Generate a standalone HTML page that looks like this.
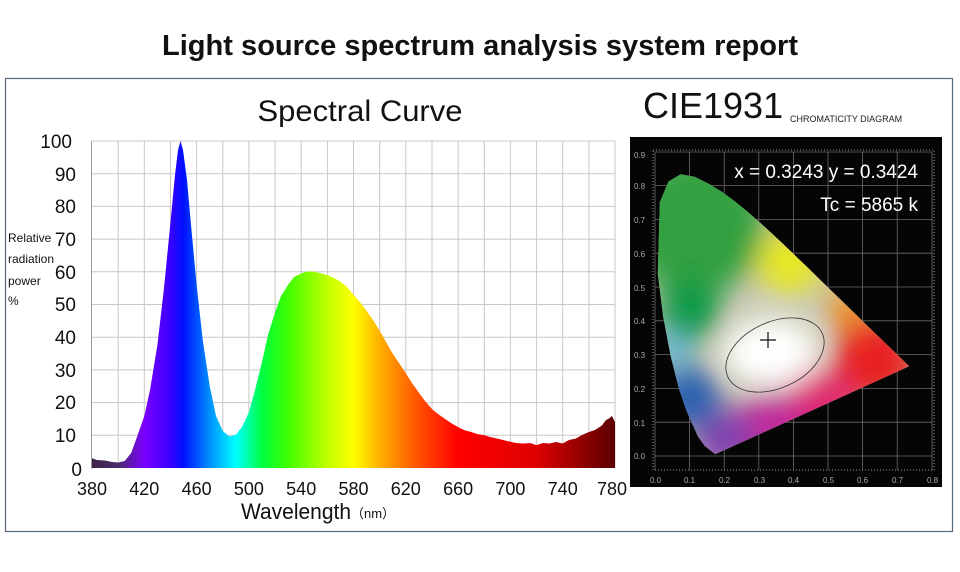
<!DOCTYPE html>
<html><head><meta charset="utf-8"><style>
html,body{margin:0;padding:0;background:#fff;width:960px;height:572px;overflow:hidden}
svg{display:block;font-family:"Liberation Sans",sans-serif}
</style></head><body>
<svg width="960" height="572" viewBox="0 0 960 572">
<defs>
<linearGradient id="spec" gradientUnits="userSpaceOnUse" x1="92" y1="0" x2="615" y2="0">
<stop offset="0" stop-color="#3a2448"/>
<stop offset="0.05" stop-color="#4a2a6a"/>
<stop offset="0.1" stop-color="#7a00ff"/>
<stop offset="0.15" stop-color="#3a00ff"/>
<stop offset="0.175" stop-color="#0010ff"/>
<stop offset="0.225" stop-color="#0090ff"/>
<stop offset="0.275" stop-color="#00ffff"/>
<stop offset="0.325" stop-color="#00ff40"/>
<stop offset="0.375" stop-color="#40ff00"/>
<stop offset="0.45" stop-color="#c0ff00"/>
<stop offset="0.5" stop-color="#ffff00"/>
<stop offset="0.55" stop-color="#ffb000"/>
<stop offset="0.625" stop-color="#ff5000"/>
<stop offset="0.7" stop-color="#ff0000"/>
<stop offset="0.85" stop-color="#dd0000"/>
<stop offset="1" stop-color="#5a0000"/>
</linearGradient>
<clipPath id="loc"><polygon points="715.2,454.3 704.8,446 697.9,436.5 686.6,411.1 678.8,388.2 670.7,356.3 663.1,316.5 657.8,274 659.8,202.4 668.5,181.5 680.7,174.2 694.5,176.7 708.5,183.6 721.7,191.8 734.4,201 747,211.2 759.4,222 771.7,233.3 784.1,244.9 796.4,256.7 808.7,268.5 820.7,280.2 832.3,291.5 843.5,302.4 854,312.6 863.6,322 871.9,330.1 879.3,337.2 885.4,343.1 894.3,351.8 909.2,366.3"/></clipPath>
<filter id="bl" x="-50%" y="-50%" width="200%" height="200%"><feGaussianBlur stdDeviation="14"/></filter>
</defs>

<text x="480" y="55" text-anchor="middle" font-size="29" font-weight="bold" fill="#111" textLength="636" lengthAdjust="spacingAndGlyphs">Light source spectrum analysis system report</text>
<rect x="5.5" y="78.5" width="947" height="453" fill="none" stroke="#5a6a85" stroke-width="1.2"/>

<text x="360" y="121" text-anchor="middle" font-size="30" fill="#111" textLength="205" lengthAdjust="spacingAndGlyphs">Spectral Curve</text>

<g stroke="#c8c8c8" stroke-width="1">
<line x1="92" y1="141" x2="615" y2="141"/><line x1="92" y1="173.7" x2="615" y2="173.7"/><line x1="92" y1="206.4" x2="615" y2="206.4"/><line x1="92" y1="239.1" x2="615" y2="239.1"/><line x1="92" y1="271.8" x2="615" y2="271.8"/><line x1="92" y1="304.5" x2="615" y2="304.5"/><line x1="92" y1="337.2" x2="615" y2="337.2"/><line x1="92" y1="369.9" x2="615" y2="369.9"/><line x1="92" y1="402.6" x2="615" y2="402.6"/><line x1="92" y1="435.3" x2="615" y2="435.3"/>
<line x1="118.2" y1="141" x2="118.2" y2="468"/><line x1="144.3" y1="141" x2="144.3" y2="468"/><line x1="170.5" y1="141" x2="170.5" y2="468"/><line x1="196.6" y1="141" x2="196.6" y2="468"/><line x1="222.8" y1="141" x2="222.8" y2="468"/><line x1="248.9" y1="141" x2="248.9" y2="468"/><line x1="275.1" y1="141" x2="275.1" y2="468"/><line x1="301.2" y1="141" x2="301.2" y2="468"/><line x1="327.4" y1="141" x2="327.4" y2="468"/><line x1="353.5" y1="141" x2="353.5" y2="468"/><line x1="379.7" y1="141" x2="379.7" y2="468"/><line x1="405.8" y1="141" x2="405.8" y2="468"/><line x1="432" y1="141" x2="432" y2="468"/><line x1="458.1" y1="141" x2="458.1" y2="468"/><line x1="484.3" y1="141" x2="484.3" y2="468"/><line x1="510.4" y1="141" x2="510.4" y2="468"/><line x1="536.6" y1="141" x2="536.6" y2="468"/><line x1="562.7" y1="141" x2="562.7" y2="468"/><line x1="588.9" y1="141" x2="588.9" y2="468"/><line x1="615" y1="141" x2="615" y2="468"/>
</g>
<line x1="91.5" y1="141" x2="91.5" y2="469" stroke="#999"/>
<polygon fill="url(#spec)" points="92,468 92,458.2 97,460 105.1,460.5 112,462 118.2,462.5 124.7,461 131.2,453 137,437 144.3,416 150,390 157.4,345 164,288 170.5,222 175,175 178,150 180.5,141 183,150 187,180 190.1,215 196.6,285 203,342 209.7,386 216,416 222.8,431 229.3,436.5 235.8,434.8 242,427 248.9,412.4 255,390 262,362 268,335 275.1,312 281,296 288.1,284.9 294,277 301.2,273.4 307,271.5 314.3,271.8 320,273 327.4,275.1 334,278 340.4,281.6 347,287 353.5,294.7 360,302 366.6,311 373,320 379.7,330.7 386,342 392.7,353.6 399,363 405.8,373.2 412,383 418.9,392.8 425,401 432,409.1 438,414 445,418.9 451,423 458.1,427.1 464,430 471.2,432 477,434 484.3,435.3 490,437 497.3,438.6 503,440 510.4,441.8 516,443 523.5,443.5 530,443 536.6,445.1 543,443 549.6,443.5 556,442 562.7,443.5 569,440 575.8,438.6 582,435 588.9,432 595,430 601.9,425.5 606,420 608.5,418.9 612,416 615,422.2 615,468"/>

<g font-size="19" fill="#111" text-anchor="end">
<text x="72" y="148">100</text><text x="76" y="181">90</text><text x="76" y="213">80</text><text x="76" y="246">70</text><text x="76" y="279">60</text><text x="76" y="311">50</text><text x="76" y="344">40</text><text x="76" y="377">30</text><text x="76" y="409">20</text><text x="76" y="442">10</text><text x="82" y="476">0</text>
</g>
<g font-size="12" fill="#111"><text x="8" y="242">Relative</text><text x="8" y="263">radiation</text><text x="8" y="285">power</text><text x="8" y="305">%</text></g>
<g font-size="18" fill="#111" text-anchor="middle">
<text x="92" y="495">380</text><text x="144.3" y="495">420</text><text x="196.6" y="495">460</text><text x="248.9" y="495">500</text><text x="301.2" y="495">540</text><text x="353.5" y="495">580</text><text x="405.8" y="495">620</text><text x="458.1" y="495">660</text><text x="510.4" y="495">700</text><text x="562.7" y="495">740</text><text x="612" y="495">780</text>
</g>
<text x="241" y="519" font-size="22" fill="#111" textLength="110" lengthAdjust="spacingAndGlyphs">Wavelength</text>
<text x="351" y="518" font-size="13" fill="#111">（nm）</text>

<text x="643" y="118" font-size="36" fill="#111">CIE1931</text>
<text x="790" y="122" font-size="9" fill="#222">CHROMATICITY DIAGRAM</text>

<rect x="630" y="137" width="312" height="350" fill="#050505"/>
<g stroke="#6a6a6a" stroke-width="0.8">
<line x1="655" y1="152" x2="932" y2="152"/><line x1="655" y1="185.6" x2="932" y2="185.6"/><line x1="655" y1="219.4" x2="932" y2="219.4"/><line x1="655" y1="253.2" x2="932" y2="253.2"/><line x1="655" y1="287" x2="932" y2="287"/><line x1="655" y1="320.8" x2="932" y2="320.8"/><line x1="655" y1="354.6" x2="932" y2="354.6"/><line x1="655" y1="388.4" x2="932" y2="388.4"/><line x1="655" y1="422.2" x2="932" y2="422.2"/><line x1="655" y1="456" x2="932" y2="456"/>
<line x1="655" y1="152" x2="655" y2="470"/><line x1="689.6" y1="152" x2="689.6" y2="470"/><line x1="724.2" y1="152" x2="724.2" y2="470"/><line x1="758.8" y1="152" x2="758.8" y2="470"/><line x1="793.4" y1="152" x2="793.4" y2="470"/><line x1="828" y1="152" x2="828" y2="470"/><line x1="862.6" y1="152" x2="862.6" y2="470"/><line x1="897.2" y1="152" x2="897.2" y2="470"/><line x1="932" y1="152" x2="932" y2="470"/>
</g>
<rect x="653" y="150" width="281" height="320" fill="none" stroke="#999" stroke-width="1" stroke-dasharray="1 2"/>
<g clip-path="url(#loc)">
<rect x="650" y="165" width="270" height="300" fill="#c8c8b0"/>
<g filter="url(#bl)">
<circle cx="695" cy="225" r="70" fill="#30a040"/>
<circle cx="690" cy="310" r="32" fill="#109a48"/>
<circle cx="790" cy="262" r="32" fill="#e8e820"/>
<circle cx="850" cy="310" r="22" fill="#f09020"/>
<circle cx="875" cy="360" r="42" fill="#e82020"/>
<circle cx="820" cy="405" r="35" fill="#e02870"/>
<circle cx="770" cy="430" r="38" fill="#c02c9a"/>
<circle cx="725" cy="440" r="30" fill="#8040b0"/>
<circle cx="690" cy="398" r="32" fill="#2a60b0"/>
<circle cx="672" cy="350" r="18" fill="#60b8d8"/>
<ellipse cx="770" cy="352" rx="48" ry="34" fill="#ffffff"/>
</g>
<ellipse cx="775" cy="355" rx="52" ry="33" transform="rotate(-25 775 355)" fill="none" stroke="#333" stroke-width="0.8"/>
</g>
<path d="M760 340 H776 M768 332 V348" stroke="#111" stroke-width="1.2"/>
<g font-size="8" fill="#aaa">
<text x="634" y="158">0.9</text><text x="634" y="189">0.8</text><text x="634" y="223">0.7</text><text x="634" y="257">0.6</text><text x="634" y="291">0.5</text><text x="634" y="324">0.4</text><text x="634" y="358">0.3</text><text x="634" y="392">0.2</text><text x="634" y="426">0.1</text><text x="634" y="459">0.0</text>
<text x="650" y="483">0.0</text><text x="684" y="483">0.1</text><text x="719" y="483">0.2</text><text x="754" y="483">0.3</text><text x="788" y="483">0.4</text><text x="823" y="483">0.5</text><text x="857" y="483">0.6</text><text x="892" y="483">0.7</text><text x="927" y="483">0.8</text>
</g>
<text x="918" y="178" text-anchor="end" font-size="19" fill="#fff">x = 0.3243 y = 0.3424</text>
<text x="918" y="211" text-anchor="end" font-size="19" fill="#fff">Tc = 5865 k</text>
</svg>
</body></html>
